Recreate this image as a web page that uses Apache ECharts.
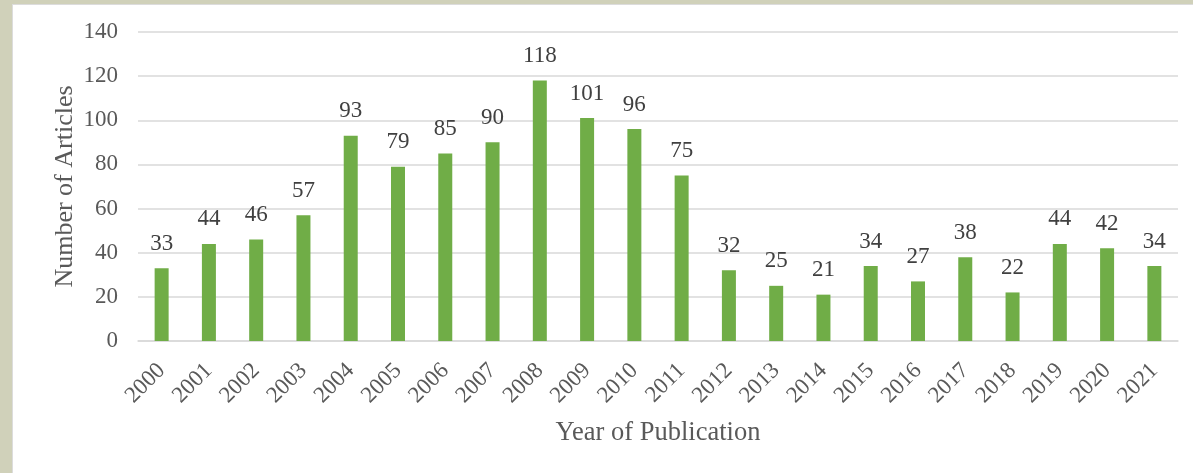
<!DOCTYPE html>
<html>
<head>
<meta charset="utf-8">
<script src="https://cdn.jsdelivr.net/npm/echarts@6/dist/echarts.min.js"></script>
<style>
  html, body { margin: 0; padding: 0; width: 1193px; height: 473px; overflow: hidden; background: #d0d1ba; }
  #frame { position: absolute; left: 12px; top: 4px; right: 0; bottom: 0; background: #dcdcdc; }
  #chart { position: absolute; left: 13px; top: 5px; width: 1180px; height: 468px; background: #ffffff; }
</style>
</head>
<body>
<div id="frame"></div>
<div id="chart"></div>
<script>
// Publications per year
const years = ['2000','2001','2002','2003','2004','2005','2006','2007','2008','2009','2010',
               '2011','2012','2013','2014','2015','2016','2017','2018','2019','2020','2021'];
const articleCounts = [33, 44, 46, 57, 93, 79, 85, 90, 118, 101, 96,
                       75, 32, 25, 21, 34, 27, 38, 22, 44, 42, 34];
const yTicks = { min: 0, max: 140, step: 20 };

const serif = '"Liberation Serif", "DejaVu Serif", serif';
const chart = echarts.init(document.getElementById('chart'), null, { renderer: 'canvas' });

chart.setOption({
  animation: false,
  backgroundColor: '#ffffff',
  grid: { left: 125, right: 15, top: 27, bottom: 132, containLabel: false },
  xAxis: {
    type: 'category',
    data: years,
    name: 'Year of Publication',
    nameLocation: 'middle',
    nameGap: 79,
    nameMoveOverlap: false,
    nameTextStyle: { fontFamily: serif, fontSize: 26.5, color: '#595959' },
    axisLine: { show: true, lineStyle: { color: '#d9d9d9', width: 1.5 } },
    axisTick: { show: false },
    axisLabel: {
      rotate: 45,
      interval: 0,
      margin: 26,
      fontFamily: serif,
      fontSize: 23,
      color: '#595959'
    }
  },
  yAxis: {
    type: 'value',
    min: yTicks.min,
    max: yTicks.max,
    interval: yTicks.step,
    name: 'Number of Articles',
    nameLocation: 'middle',
    nameGap: 60,
    nameMoveOverlap: false,
    nameRotate: 90,
    nameTextStyle: { fontFamily: serif, fontSize: 26, color: '#595959' },
    axisLine: { show: false },
    axisTick: { show: false },
    axisLabel: { margin: 20, fontFamily: serif, fontSize: 23, color: '#595959' },
    splitLine: { lineStyle: { color: '#d9d9d9', width: 1.5 } }
  },
  series: [{
    type: 'bar',
    data: articleCounts,
    barWidth: 14,
    itemStyle: { color: '#70ad47' },
    label: {
      show: true,
      position: 'top',
      distance: 13,
      fontFamily: serif,
      fontSize: 23,
      color: '#404040'
    }
  }]
});
</script>
</body>
</html>
